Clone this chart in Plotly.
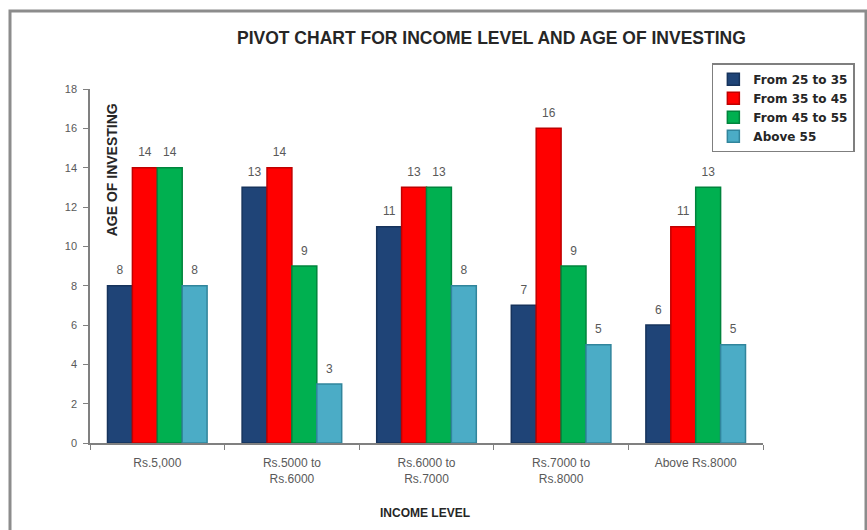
import plotly.graph_objects as go

income_levels = ["Rs.5,000", "Rs.5000 to<br>Rs.6000", "Rs.6000 to<br>Rs.7000",
                 "Rs.7000 to<br>Rs.8000", "Above Rs.8000"]
age_groups = ["From 25 to 35", "From 35 to 45", "From 45 to 55", "Above 55"]
from_25_to_35 = [8, 13, 11, 7, 6]
from_35_to_45 = [14, 14, 13, 16, 11]
from_45_to_55 = [14, 9, 13, 9, 13]
above_55 = [8, 3, 8, 5, 5]
y_ticks = [0, 2, 4, 6, 8, 10, 12, 14, 16, 18]

series = [from_25_to_35, from_35_to_45, from_45_to_55, above_55]
fills = ["#1F4477", "#FF0000", "#00B050", "#4BACC6"]
edges = ["#16335C", "#C00000", "#00843C", "#31859C"]
GAP = 0.26

fig = go.Figure()
for i, (name, vals, fc, ec) in enumerate(zip(age_groups, series, fills, edges)):
    fig.add_trace(go.Bar(
        x=income_levels, y=vals, name=name, offsetgroup=str(i),
        marker=dict(color=fc, line=dict(color=ec, width=1.5)),
    ))
# value labels, set a little above each bar
for i, vals in enumerate(series):
    fig.add_trace(go.Scatter(
        x=income_levels, y=vals, mode="markers+text", offsetgroup=str(i),
        text=[str(v) for v in vals], textposition="top center",
        marker=dict(size=12, opacity=0),
        textfont=dict(family="Arial, Liberation Sans", size=12, color="#595959"),
        showlegend=False, hoverinfo="skip", cliponaxis=False,
    ))

fig.update_layout(
    width=867, height=530,
    margin=dict(l=90, r=104, t=89, b=87),
    paper_bgcolor="white", plot_bgcolor="white",
    barmode="group", bargap=GAP, bargroupgap=0,
    scattermode="group", scattergap=GAP,
    showlegend=True,
    legend=dict(
        x=0.924, y=1.073, xanchor="left", yanchor="top",
        bgcolor="white", bordercolor="#7F7F7F", borderwidth=1.5,
        font=dict(family="Tahoma, DejaVu Sans, Arial", size=12, color="#262626",
                  weight="bold"),
        itemwidth=30, tracegroupgap=0,
    ),
    font=dict(family="Arial, Liberation Sans", size=11, color="#595959"),
)

fig.update_xaxes(
    showline=True, linecolor="#808080", linewidth=1.5,
    ticks="outside", tickson="boundaries", ticklen=5, tickcolor="#808080",
    tickfont=dict(family="Arial, Liberation Sans", size=12, color="#595959"),
    ticklabelstandoff=8,
    showgrid=False,
)
fig.update_yaxes(
    range=[0, 18], tickvals=y_ticks,
    showline=True, linecolor="#808080", linewidth=1.5,
    ticks="outside", ticklen=5, tickcolor="#808080",
    tickfont=dict(family="Arial, Liberation Sans", size=11, color="#595959"),
    ticklabelstandoff=4,
    showgrid=False, zeroline=False,
)

# chart title, axis titles
fig.add_annotation(
    text="<b>PIVOT CHART FOR INCOME LEVEL AND AGE OF INVESTING</b>",
    xref="paper", yref="paper", x=0.597, y=(443 - 38) / 354,
    showarrow=False, xanchor="center", yanchor="middle",
    font=dict(family="Arial, Liberation Sans", size=17.5, color="#262626"),
)
fig.add_annotation(
    text="<b>AGE OF INVESTING</b>",
    xref="paper", yref="paper", x=0.033, y=0.771, textangle=-90,
    showarrow=False, xanchor="center", yanchor="middle",
    font=dict(family="Arial, Liberation Sans", size=14, color="#262626"),
)
fig.add_annotation(
    text="<b>INCOME LEVEL</b>",
    xref="paper", yref="paper", x=0.498, y=-0.198,
    showarrow=False, xanchor="center", yanchor="middle",
    font=dict(family="Arial, Liberation Sans", size=12, color="#262626"),
)

# outer chart border
fig.add_shape(
    type="rect", xref="paper", yref="paper",
    x0=(10 - 90) / 673, x1=(866 - 90) / 673,
    y0=-0.4, y1=(443 - 11) / 354,
    line=dict(color="#8C8C8C", width=3), layer="below",
)

fig.write_html("out.html")
